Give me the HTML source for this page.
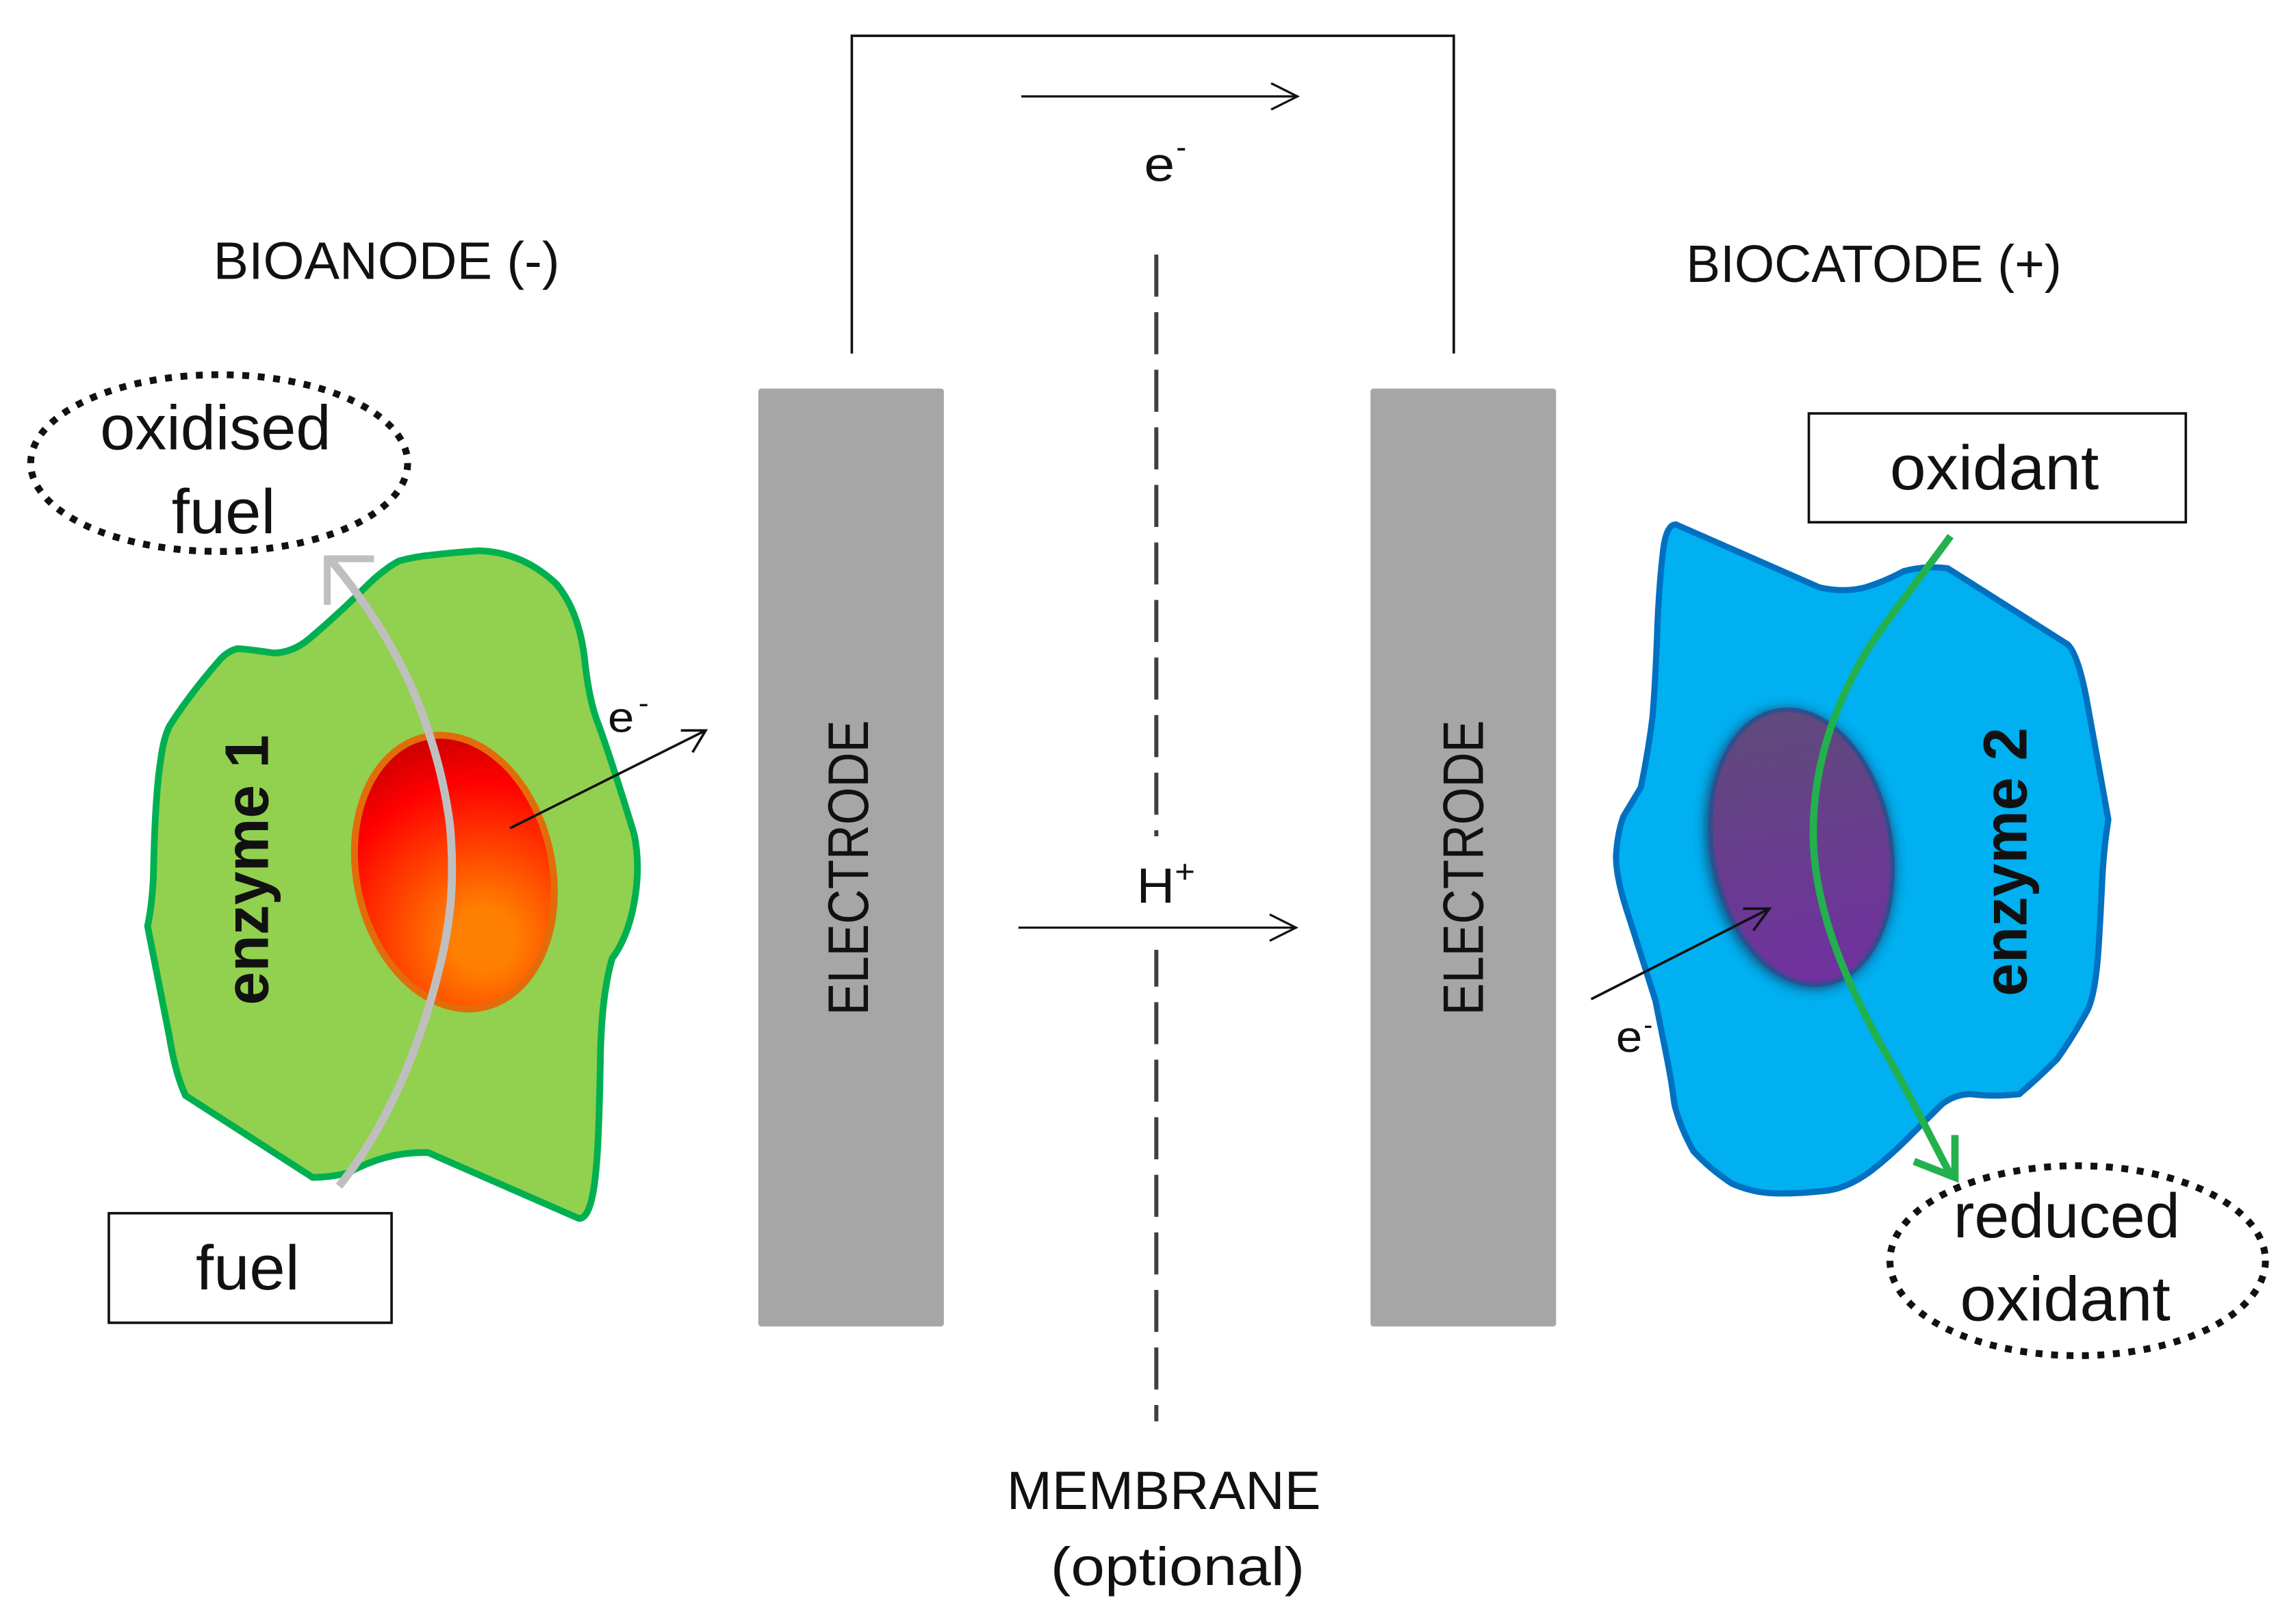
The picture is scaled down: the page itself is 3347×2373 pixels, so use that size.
<!DOCTYPE html>
<html>
<head>
<meta charset="utf-8">
<style>
html,body{margin:0;padding:0;background:#fff;}
svg{display:block;}
text{font-family:"Liberation Sans",sans-serif;fill:#111;}
</style>
</head>
<body>
<svg xmlns="http://www.w3.org/2000/svg" width="3347" height="2373" viewBox="0 0 1568 1111.7" preserveAspectRatio="none">
<defs>
<radialGradient id="red" gradientUnits="userSpaceOnUse" cx="331" cy="643" r="150" gradientTransform="rotate(12 311 597)">
<stop offset="0" stop-color="#ff8000"/>
<stop offset="0.14" stop-color="#ff8000"/>
<stop offset="0.72" stop-color="#ff0000"/>
<stop offset="1" stop-color="#c00000"/>
</radialGradient>
<linearGradient id="pur" x1="0" y1="0" x2="0" y2="1">
<stop offset="0" stop-color="#604a7b"/>
<stop offset="1" stop-color="#7030a0"/>
</linearGradient>
<filter id="blur" x="-30%" y="-30%" width="160%" height="160%"><feGaussianBlur stdDeviation="4"/></filter>
</defs>
<rect width="1568" height="1112" fill="#fff"/>

<!-- wire -->
<path d="M583,242 V24.500 H995 V242" fill="none" stroke="#111" stroke-width="1.700"/>
<path d="M699,66 H888 M870,57 L888,66 L870,75" fill="none" stroke="#111" stroke-width="1.500"/>
<text x="783" y="124" font-size="33" textLength="21" lengthAdjust="spacingAndGlyphs">e</text>
<text x="805" y="108" font-size="22" textLength="7" lengthAdjust="spacingAndGlyphs">-</text>

<!-- headings -->
<text x="146" y="191" font-size="36" textLength="237" lengthAdjust="spacingAndGlyphs">BIOANODE (-)</text>
<text x="1154" y="193" font-size="36" textLength="257" lengthAdjust="spacingAndGlyphs">BIOCATODE (+)</text>

<!-- electrodes -->
<rect x="519" y="266" width="127" height="642" rx="2" fill="#a6a6a6"/>
<rect x="938" y="266" width="127" height="642" rx="2" fill="#a6a6a6"/>
<text transform="translate(594,695) rotate(-90)" font-size="39" textLength="202" lengthAdjust="spacingAndGlyphs">ELECTRODE</text>
<text transform="translate(1015,695) rotate(-90)" font-size="39" textLength="202" lengthAdjust="spacingAndGlyphs">ELECTRODE</text>

<!-- membrane -->
<path d="M791.400,174.300 V572.500" fill="none" stroke="#404040" stroke-width="2.800" stroke-dasharray="28.800,10.600"/>
<path d="M791.400,650.200 V973" fill="none" stroke="#404040" stroke-width="2.800" stroke-dasharray="28.800,10.600" stroke-dashoffset="3.600"/>
<path d="M697,635 H887 M869,626 L887,635 L869,644" fill="none" stroke="#111" stroke-width="1.500"/>
<text x="778" y="618" font-size="34" textLength="26" lengthAdjust="spacingAndGlyphs">H</text>
<text x="804" y="604" font-size="22" textLength="14" lengthAdjust="spacingAndGlyphs">+</text>
<text x="689" y="1033" font-size="37" textLength="215" lengthAdjust="spacingAndGlyphs">MEMBRANE</text>
<text x="719" y="1085" font-size="37" textLength="174" lengthAdjust="spacingAndGlyphs">(optional)</text>

<!-- enzyme 1 -->
<path d="M295,380 Q312,378 328,377 Q358,378 381,400 Q396,418 400,450 Q403,480 410,497 Q420,525 434,571 Q438,590 435,612 Q431,640 419,656 Q412,680 411,720 Q410,780 408,800 Q405,835 396,834 L293,789 Q265,788 238,803 Q226,806 214,806 L127,750 Q120,735 116,710 L101,634 Q104,620 105,600 Q106,545 110,520 Q112,505 116,497 Q130,475 151,451 Q157,445 163,444 Q175,445 187,447 Q200,447 212,437 Q232,420 250,402 Q262,390 273,384 Q284,381 295,380 Z" fill="#92d050" stroke="#00b050" stroke-width="4.600"/>
<ellipse cx="311" cy="597" rx="67" ry="94.700" transform="rotate(-12 311 597)" fill="url(#red)" stroke="#e36c0a" stroke-width="4.700"/>
<text transform="translate(183.500,688) rotate(-90)" font-size="42" font-weight="bold" textLength="185" lengthAdjust="spacingAndGlyphs">enzyme 1</text>
<path d="M232,812 C262,775 288,720 303,653 C309,625 311,600 308,565 C304,535 298,515 292,497 C283,470 270,445 257,425 C248,411 238,397 226,383" fill="none" stroke="#bfbfbf" stroke-width="5.500"/>
<path d="M256,382.500 H224 V414" fill="none" stroke="#bfbfbf" stroke-width="4.700"/>
<path d="M349,567 L483,500 M466,500 L483,500 L474,515" fill="none" stroke="#111" stroke-width="1.700"/>
<text x="416" y="501" font-size="29" textLength="18" lengthAdjust="spacingAndGlyphs">e</text>
<text x="437" y="488" font-size="20" textLength="7" lengthAdjust="spacingAndGlyphs">-</text>

<!-- enzyme 2 -->
<path d="M1147,359 L1245,402 Q1262,406 1277,402 Q1290,398 1303,391 Q1318,387 1333,389 L1415,441 Q1422,447 1428,478 L1443,561 Q1440,580 1439,599 Q1437,640 1436,653 Q1434,680 1429,691 Q1420,708 1408,725 Q1395,738 1382,749 Q1365,751 1349,749 Q1338,749 1329,756 Q1317,768 1306,779 Q1293,792 1280,802 Q1265,813 1251,815 Q1234,817 1218,817 Q1200,817 1185,810 Q1170,800 1159,788 Q1150,772 1146,756 Q1144,740 1141,725 Q1137,705 1133,685 Q1123,653 1113,622 Q1106,600 1106,586 Q1107,570 1111,559 Q1117,549 1123,539 Q1128,515 1131,491 Q1133,465 1134,438 Q1135,405 1138,379 Q1140,359 1147,359 Z" fill="#00b0f0" stroke="#0070c0" stroke-width="4.200"/>
<ellipse cx="1232" cy="581" rx="64" ry="97" transform="rotate(-10 1232 581)" fill="#1f3864" opacity="0.8" filter="url(#blur)"/>
<ellipse cx="1233" cy="580" rx="61" ry="95" transform="rotate(-10 1233 580)" fill="url(#pur)" stroke="#2f4f8f" stroke-width="3"/>
<text transform="translate(1387,682) rotate(-90)" font-size="42" font-weight="bold" textLength="184" lengthAdjust="spacingAndGlyphs">enzyme 2</text>
<path d="M1335,367 C1315,395 1290,425 1275,450 C1258,480 1241,520 1241,570 C1241,620 1262,670 1290,720 C1305,745 1322,780 1336,806" fill="none" stroke="#22b14c" stroke-width="5"/>
<path d="M1310,795 L1338,806 V777" fill="none" stroke="#22b14c" stroke-width="5"/>
<path d="M1089,684 L1211,622 M1193,622 L1211,622 L1200,637" fill="none" stroke="#111" stroke-width="1.700"/>
<text x="1106" y="720" font-size="30" textLength="18" lengthAdjust="spacingAndGlyphs">e</text>
<text x="1125" y="708" font-size="20" textLength="6" lengthAdjust="spacingAndGlyphs">-</text>

<!-- left labels -->
<ellipse cx="150" cy="317" rx="129" ry="60.500" fill="none" stroke="#111" stroke-width="4.700" stroke-dasharray="4.700,5.900"/>
<text x="68.500" y="307.500" font-size="43" textLength="158" lengthAdjust="spacingAndGlyphs">oxidised</text>
<text x="117.500" y="365" font-size="43" textLength="71" lengthAdjust="spacingAndGlyphs">fuel</text>
<rect x="74.500" y="830.500" width="193.500" height="75" fill="#fff" stroke="#111" stroke-width="1.700"/>
<text x="134" y="882.500" font-size="43" textLength="71" lengthAdjust="spacingAndGlyphs">fuel</text>

<!-- right labels -->
<rect x="1238" y="283" width="258" height="74.500" fill="#fff" stroke="#111" stroke-width="1.700"/>
<text x="1293.500" y="335" font-size="43" textLength="143" lengthAdjust="spacingAndGlyphs">oxidant</text>
<ellipse cx="1422" cy="863" rx="128.500" ry="65" fill="none" stroke="#111" stroke-width="4.700" stroke-dasharray="4.700,5.900"/>
<text x="1337" y="847" font-size="43" textLength="155" lengthAdjust="spacingAndGlyphs">reduced</text>
<text x="1341.500" y="904" font-size="43" textLength="144" lengthAdjust="spacingAndGlyphs">oxidant</text>
</svg>
</body>
</html>
